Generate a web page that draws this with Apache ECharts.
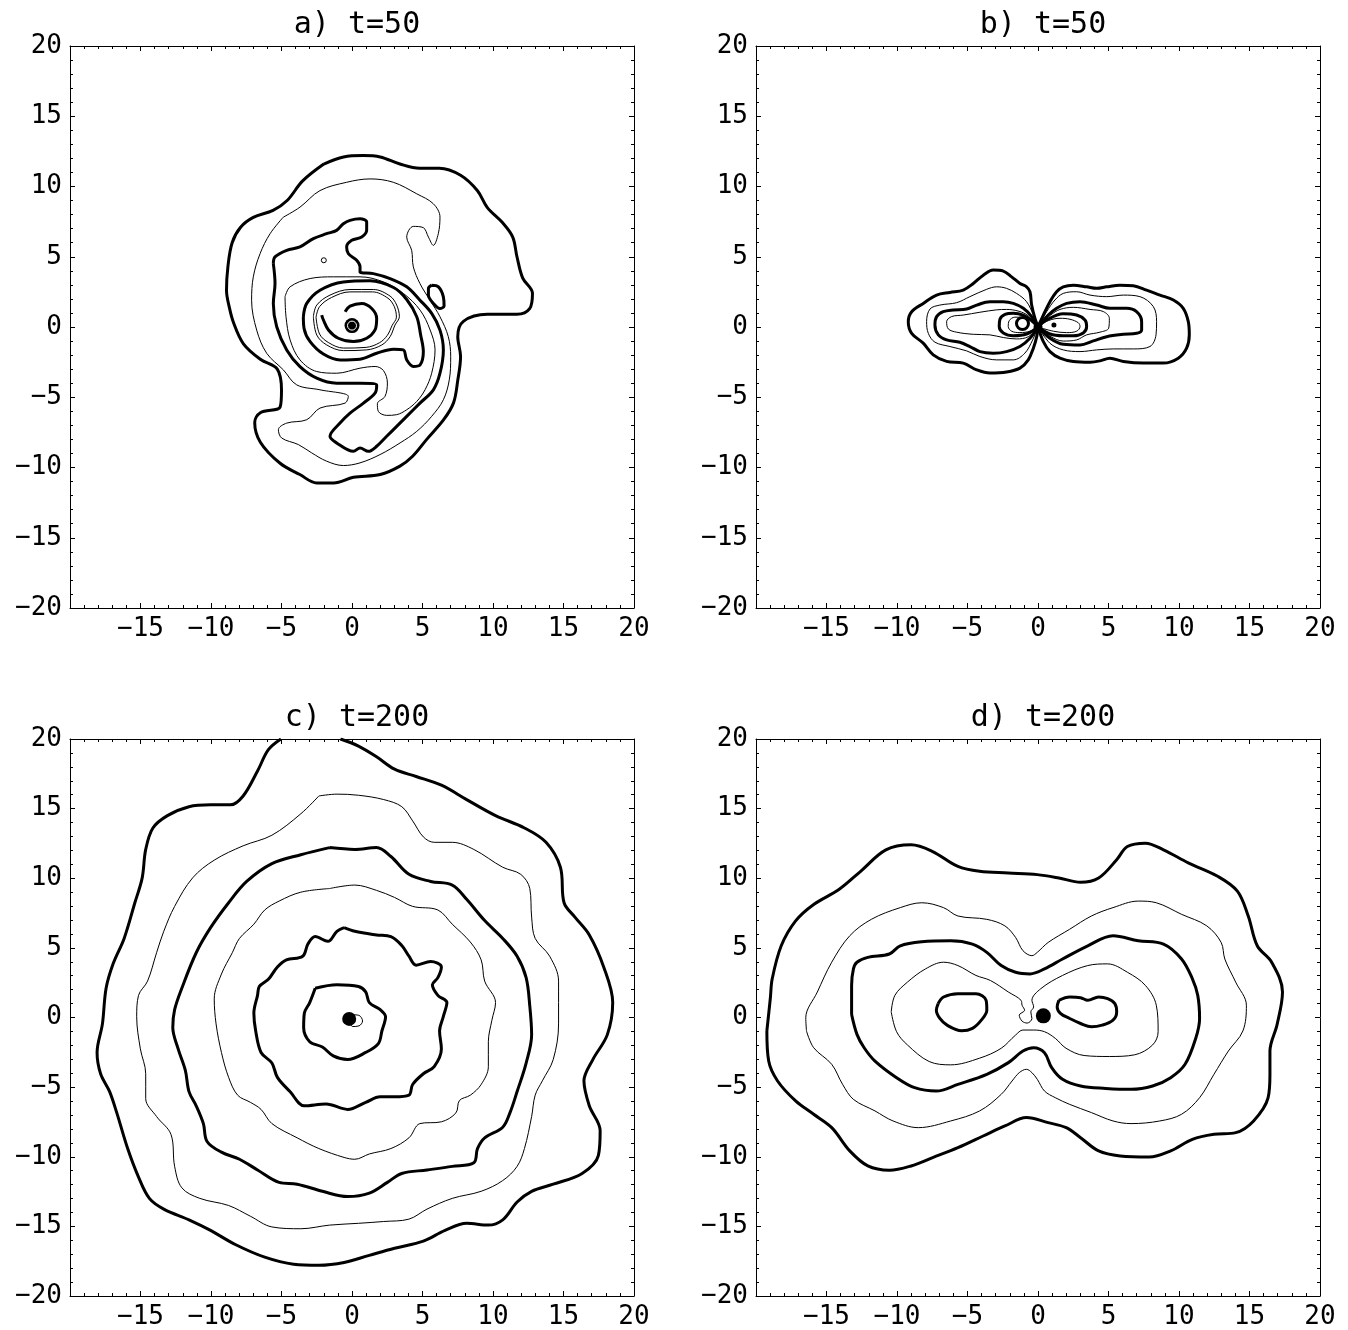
<!DOCTYPE html>
<html><head><meta charset="utf-8">
<script src="https://cdn.jsdelivr.net/npm/echarts@6/dist/echarts.min.js"></script>
<style>html,body{margin:0;padding:0;background:#fff}#c{width:1348px;height:1330px}</style>
</head><body><div id="c"></div>
<script>
// ---------- titles & ticks ----------
const titles = ['a) t=50', 'b) t=50', 'c) t=200', 'd) t=200'];
const tickValues = [-20, -15, -10, -5, 0, 5, 10, 15, 20];

// ---------- panel a (t=50, spiral) ----------
const a_thick1 = [[-2.0,11.6],[-0.6,12.1],[0.8,12.2],[2.0,12.1],[3.4,11.6],[4.8,11.3],[6.2,11.3],[7.7,10.8],[8.9,9.7],[9.6,8.5],[10.7,7.4],[11.4,6.4],[11.7,5.0],[12.1,3.5],[12.8,2.4],[12.6,1.3],[11.7,0.9],[9.6,0.9],[7.9,0.4],[7.5,-0.7],[7.7,-2.1],[7.5,-3.8],[7.2,-5.4],[6.5,-6.6],[5.3,-8.0],[4.3,-9.2],[3.4,-9.9],[2.0,-10.5],[0.1,-10.7],[-1.3,-11.1],[-2.5,-11.1],[-3.7,-10.5],[-5.1,-9.7],[-6.5,-8.2],[-6.9,-6.8],[-6.5,-6.1],[-5.1,-5.7],[-5.0,-4.5],[-5.3,-3.0],[-6.5,-2.3],[-7.7,-1.2],[-8.4,0.3],[-8.7,1.4],[-8.9,2.6],[-8.8,4.3],[-8.5,6.0],[-7.9,7.1],[-7.0,7.8],[-5.6,8.3],[-4.6,9.0],[-3.5,10.4]];
const a_thin1 = [[-4.87,7.82],[-3.69,8.53],[-2.27,9.71],[-0.38,10.3],[1.28,10.54],[2.93,10.3],[4.59,9.48],[5.77,8.77],[6.24,7.82],[6.12,6.64],[5.77,5.81],[5.42,6.4],[5.06,7.07],[4.35,7.16],[3.88,6.4],[4.23,5.46],[4.35,4.28],[4.82,3.09],[5.53,1.91],[6.24,0.73],[6.83,-0.69],[7.0,-2.11],[6.9,-3.76],[6.48,-5.18],[5.65,-6.36],[4.59,-7.43],[3.41,-8.25],[1.99,-9.08],[0.57,-9.67],[-0.61,-9.86],[-1.8,-9.55],[-2.86,-8.96],[-3.8,-8.37],[-4.99,-7.9],[-5.22,-7.31],[-4.63,-6.84],[-3.21,-6.6],[-2.27,-5.77],[-0.49,-5.42],[-0.26,-4.94],[-2.27,-4.47],[-3.92,-4.12],[-4.87,-3.05],[-6.05,-1.87],[-6.76,-0.22],[-7.12,1.91],[-7.0,3.57],[-6.52,5.22],[-5.81,6.64]];
const a_thick2 = [[-5.58,4.51],[-5.46,4.99],[-4.63,5.46],[-3.69,5.7],[-2.74,6.29],[-1.8,6.64],[-1.09,6.88],[-0.61,7.35],[-0.14,7.59],[0.57,7.7],[1.04,7.47],[1.04,6.88],[0.69,6.4],[-0.02,6.17],[-0.38,5.7],[-0.26,5.22],[0.33,4.75],[0.57,4.28],[0.57,3.92],[1.51,3.8],[2.7,3.45],[3.88,2.86],[4.82,1.91],[5.65,0.97],[6.24,-0.22],[6.48,-1.63],[6.24,-3.29],[5.77,-4.47],[4.82,-5.42],[3.88,-6.36],[3.17,-7.07],[2.46,-7.78],[1.75,-8.49],[1.16,-8.85],[0.57,-8.61],[0.1,-8.85],[-1.09,-8.25],[-1.56,-7.78],[-0.85,-6.84],[-0.14,-6.13],[0.81,-5.42],[1.63,-4.71],[1.75,-4.12],[0.57,-4.0],[-1.09,-4.0],[-2.5,-3.64],[-3.69,-2.82],[-4.63,-1.63],[-5.34,0.02],[-5.58,1.68],[-5.46,3.1]];
const a_thin2 = [[-4.75,2.15],[-4.39,2.86],[-2.97,3.45],[-1.32,3.57],[0.57,3.57],[2.23,3.21],[3.64,2.39],[4.83,1.2],[5.54,-0.21],[5.89,-1.63],[5.65,-3.29],[5.18,-4.47],[4.59,-5.3],[3.88,-5.89],[3.17,-6.24],[2.46,-6.29],[1.87,-6.01],[1.8,-5.46],[2.34,-4.94],[2.51,-3.99],[2.23,-3.1],[1.64,-2.81],[0.57,-2.93],[-1.08,-3.29],[-2.5,-3.17],[-3.69,-2.34],[-4.39,-0.92],[-4.68,0.73]];
const a_thick3 = [[-3.45,0.73],[-3.21,1.68],[-2.27,2.62],[-0.61,3.21],[1.28,3.29],[2.94,2.81],[3.88,1.96],[4.59,0.73],[4.87,-0.57],[5.06,-1.75],[4.83,-2.7],[4.35,-2.81],[3.88,-2.34],[3.64,-1.63],[2.94,-1.58],[1.75,-1.87],[0.57,-2.29],[-0.85,-2.34],[-2.03,-1.92],[-2.97,-1.04],[-3.4,-0.1]];
const a_thin3 = [[-2.74,0.73],[-2.5,1.56],[-1.56,2.27],[-0.14,2.67],[1.52,2.67],[2.7,2.2],[3.17,1.56],[3.36,0.73],[3.05,0.14],[2.7,-0.69],[2.11,-1.28],[1.04,-1.63],[-0.61,-1.68],[-1.79,-1.28],[-2.5,-0.57]];
const a_thin4 = [[-2.55,0.7],[-2.3,1.45],[-1.45,2.1],[-0.15,2.5],[1.45,2.5],[2.55,2.05],[3.0,1.45],[3.15,0.7],[2.85,0.12],[2.5,-0.6],[1.95,-1.12],[1.0,-1.45],[-0.6,-1.5],[-1.65,-1.12],[-2.3,-0.5]];
const a_hook = [[-0.49,1.09],[-0.14,1.49],[0.69,1.68],[1.4,1.32],[1.75,0.61],[1.63,-0.21],[1.04,-0.8],[0.1,-1.04],[-0.97,-0.8],[-1.67,-0.21],[-2.03,0.5],[-2.15,0.85]];
const a_oval = [[5.65,2.98],[6.13,2.86],[6.48,2.15],[6.53,1.49],[6.24,1.32],[5.77,1.68],[5.42,2.27],[5.42,2.74]];
const a_center = [[0, 0.1]];
const a_tiny = [[-2.0, 4.75]];

// ---------- panel b (t=50, two lobes) ----------
const b_l1 = [[0,0],[-0.22,0.62],[-0.45,1.56],[-0.57,2.51],[-0.81,2.86],[-1.28,3.1],[-1.87,3.57],[-2.46,3.98],[-3.17,4.05],[-3.88,3.69],[-4.59,3.1],[-5.3,2.63],[-6.25,2.46],[-7.19,2.27],[-8.14,1.68],[-8.96,1.09],[-9.2,0.38],[-8.96,-0.45],[-8.14,-1.15],[-7.43,-1.98],[-6.48,-2.45],[-5.3,-2.57],[-4.35,-3.05],[-3.41,-3.28],[-2.23,-3.21],[-1.28,-2.93],[-0.69,-2.34],[-0.33,-1.51],[-0.09,-0.69]];
const b_l2 = [[0,0],[-0.33,0.85],[-0.81,1.8],[-1.52,2.39],[-2.23,2.75],[-2.94,2.86],[-3.65,2.68],[-4.83,2.16],[-5.77,1.73],[-6.96,1.56],[-7.66,1.28],[-7.9,0.38],[-7.78,-0.45],[-7.31,-1.08],[-6.25,-1.39],[-5.06,-1.7],[-4.12,-2.1],[-2.94,-2.34],[-1.75,-2.34],[-0.93,-1.86],[-0.38,-0.92]];
const b_l3 = [[0,0],[-0.45,0.74],[-1.04,1.33],[-1.75,1.68],[-2.46,1.8],[-3.41,1.8],[-4.35,1.56],[-5.06,1.28],[-6.01,1.21],[-6.72,1.09],[-7.19,0.74],[-7.31,0.14],[-7.07,-0.56],[-6.48,-0.92],[-5.54,-1.09],[-4.83,-1.39],[-4.12,-1.75],[-3.17,-1.86],[-2.23,-1.75],[-1.28,-1.39],[-0.57,-0.8]];
const b_l4 = [[0,0],[-0.7,0.8],[-1.35,1.12],[-2.23,1.25],[-2.94,1.22],[-4.12,1.05],[-5.3,0.85],[-6.13,0.74],[-6.48,0.38],[-6.36,-0.14],[-5.77,-0.37],[-4.59,-0.52],[-3.41,-0.56],[-2.46,-0.75],[-1.52,-0.85],[-0.69,-0.69]];
const b_l5 = [[0,0],[-0.5,0.5],[-1.05,0.85],[-1.75,0.98],[-2.34,0.9],[-2.7,0.55],[-2.75,0.03],[-2.46,-0.42],[-1.75,-0.62],[-0.81,-0.5]];
const b_l6 = [[0,0],[-0.45,0.45],[-1.04,0.66],[-1.64,0.7],[-2.04,0.45],[-2.11,0.03],[-1.87,-0.3],[-1.28,-0.4],[-0.57,-0.3]];
const b_r1 = [[0,0],[0.38,0.85],[0.85,1.8],[1.32,2.51],[1.79,2.86],[2.5,2.98],[3.45,2.86],[4.16,2.75],[4.87,2.86],[5.81,2.98],[6.76,2.94],[7.7,2.63],[8.65,2.27],[9.6,1.92],[10.3,1.33],[10.66,0.38],[10.73,-0.56],[10.54,-1.51],[9.95,-2.22],[8.89,-2.57],[7.47,-2.57],[6.05,-2.45],[5.1,-2.22],[4.39,-2.41],[3.69,-2.5],[2.5,-2.45],[1.56,-2.22],[0.85,-1.75],[0.38,-1.04]];
const b_r2 = [[0,0],[0.61,1.09],[1.2,1.92],[1.79,2.39],[2.74,2.51],[3.69,2.27],[4.87,2.16],[6.05,2.27],[7.23,2.16],[8.18,1.45],[8.41,0.38],[8.37,-0.56],[7.94,-1.39],[6.76,-1.56],[5.34,-1.56],[4.16,-1.63],[2.98,-1.75],[1.79,-1.63],[0.85,-1.16]];
const b_r3 = [[0,0],[0.73,0.85],[1.32,1.33],[2.03,1.68],[2.98,1.8],[4.16,1.56],[5.1,1.33],[6.29,1.33],[6.99,1.09],[7.35,0.38],[7.35,-0.21],[6.99,-0.45],[6.05,-0.52],[4.87,-0.69],[3.92,-0.99],[2.98,-1.28],[1.79,-1.23],[0.85,-0.8]];
const b_r4 = [[0,0],[0.9,0.85],[1.56,1.25],[2.5,1.4],[3.69,1.25],[4.63,1.1],[5.06,0.62],[5.01,-0.09],[4.39,-0.37],[3.45,-0.56],[2.74,-0.92],[1.79,-1.0],[0.85,-0.65]];
const b_r5 = [[0,0],[0.6,0.5],[1.79,0.95],[2.74,0.85],[3.33,0.5],[3.45,0.03],[3.21,-0.42],[2.5,-0.62],[1.79,-0.62],[0.85,-0.5]];
const b_r6 = [[0,0],[0.73,0.45],[1.56,0.62],[2.27,0.55],[2.86,0.3],[2.98,0.03],[2.74,-0.3],[2.03,-0.4],[1.09,-0.3]];
const b_center = [[0, 0]];
const b_ring = [[-1.1, 0.25]];
const b_spot = [[1.13, 0.15]];

// ---------- panel c (t=200, rings) ----------
const c_thick1 = [[-0.82,20],[0.46,19.49],[1.74,18.72],[3.02,17.83],[4.55,17.31],[6.34,16.68],[8.13,15.65],[10.18,14.5],[12.23,13.61],[13.76,12.58],[14.78,10.79],[15.04,8.24],[15.81,7.21],[16.83,5.93],[17.85,3.63],[18.49,1.07],[18.11,-1.23],[17.08,-3.02],[16.45,-4.55],[16.83,-6.34],[17.6,-8.13],[17.47,-9.92],[16.32,-11.2],[14.27,-11.97],[12.74,-12.48],[11.71,-13.25],[10.69,-14.53],[9.67,-14.91],[8.13,-14.78],[6.6,-15.29],[5.06,-16.06],[3.02,-16.57],[1.23,-17.08],[-0.56,-17.6],[-2.35,-17.8],[-4.14,-17.72],[-6.19,-17.21],[-8.24,-16.32],[-10.03,-15.29],[-11.56,-14.53],[-13.35,-13.76],[-14.37,-12.99],[-15.14,-11.46],[-15.91,-9.41],[-16.68,-6.85],[-17.19,-5.32],[-17.83,-4.04],[-18.08,-2.51],[-17.7,-0.46],[-17.44,2.1],[-16.93,3.89],[-16.16,5.68],[-15.4,8.24],[-14.88,10.03],[-14.63,12.07],[-14.12,13.61],[-13.09,14.5],[-11.56,15.14],[-10.03,15.27],[-8.62,15.27],[-7.72,15.91],[-6.7,17.7],[-5.93,19.23],[-5.04,20]];
const c_thin1 = [[-2.35,15.91],[-1.07,16.04],[0.46,15.96],[2.25,15.65],[3.53,15.14],[4.3,14.12],[5.06,12.97],[5.83,12.58],[7.11,12.58],[8.64,12.07],[10.69,10.79],[11.97,10.28],[12.61,9.26],[12.74,7.21],[12.99,5.68],[14.02,4.4],[14.65,2.61],[14.65,-0.46],[14.27,-3.02],[13.5,-4.55],[12.99,-5.58],[12.74,-7.11],[12.23,-9.41],[11.71,-10.69],[10.69,-11.71],[9.16,-12.48],[7.11,-12.99],[5.32,-13.76],[4.04,-14.48],[2.25,-14.65],[0.46,-14.78],[-1.59,-14.91],[-3.63,-15.17],[-5.68,-15.04],[-7.21,-14.27],[-8.75,-13.5],[-10.79,-12.99],[-12.07,-12.23],[-12.58,-10.69],[-12.84,-8.39],[-13.86,-7.11],[-14.63,-5.83],[-14.63,-4.04],[-15.01,-2.25],[-15.27,0.05],[-15.14,1.59],[-14.5,2.61],[-13.86,4.65],[-13.35,6.19],[-12.58,7.98],[-11.3,10.03],[-9.77,11.3],[-7.72,12.33],[-5.68,13.09],[-3.63,14.63]];
const c_thick2 = [[-1.59,12.2],[0.2,12.07],[1.74,12.2],[2.76,11.56],[4.04,10.28],[5.58,9.77],[7.11,9.51],[8.13,8.49],[9.41,6.96],[10.69,5.68],[11.71,4.4],[12.35,2.86],[12.61,0.82],[12.74,-1.23],[12.35,-3.27],[11.71,-5.32],[11.2,-6.85],[10.69,-7.88],[9.41,-8.64],[8.9,-9.41],[8.64,-10.43],[7.11,-10.69],[5.32,-10.95],[3.53,-11.2],[2.51,-11.84],[1.23,-12.61],[-0.31,-12.86],[-2.1,-12.48],[-3.89,-11.97],[-5.17,-11.84],[-6.7,-10.95],[-7.98,-10.18],[-9.26,-9.67],[-10.28,-8.9],[-10.54,-7.62],[-11.05,-6.34],[-11.56,-5.32],[-11.82,-3.79],[-12.33,-2.25],[-12.71,-0.72],[-12.58,0.56],[-12.07,2.1],[-11.05,4.65],[-10.03,6.45],[-8.75,8.24],[-7.47,9.77],[-5.68,11.05],[-3.63,11.69]];
const c_thin2 = [[-1.59,9.26],[0.2,9.51],[1.74,9.13],[3.02,8.62],[4.3,7.98],[6.09,7.72],[7.11,6.7],[8.39,5.42],[9.16,4.14],[9.41,2.61],[10.18,1.07],[9.92,-0.2],[9.67,-1.74],[9.67,-3.53],[9.16,-4.81],[8.39,-5.58],[7.62,-5.96],[7.37,-6.85],[6.34,-7.49],[4.81,-7.62],[4.04,-8.64],[2.76,-9.41],[1.23,-9.8],[0.2,-10.18],[-0.56,-10.05],[-2.35,-9.41],[-3.89,-8.64],[-5.68,-7.62],[-6.45,-6.6],[-7.21,-6.09],[-8.11,-5.58],[-8.75,-4.3],[-9.26,-2.51],[-9.64,-0.46],[-9.77,1.33],[-9.26,3.12],[-8.49,4.65],[-7.98,5.68],[-6.96,6.7],[-6.19,7.72],[-5.17,8.36],[-3.63,9.0]];
const c_thick3 = [[-0.56,6.45],[0.2,6.19],[1.74,5.93],[2.76,5.81],[3.53,5.17],[4.04,4.4],[4.55,3.76],[5.58,4.02],[6.34,3.63],[6.09,2.86],[5.7,2.35],[6.09,1.59],[6.73,1.07],[6.47,0.05],[6.21,-0.97],[6.34,-2.25],[5.83,-3.53],[5.06,-4.04],[4.3,-4.81],[4.04,-5.58],[3.02,-5.7],[2.0,-5.7],[0.97,-6.09],[-0.31,-6.6],[-1.84,-6.21],[-3.38,-6.34],[-4.4,-5.32],[-5.29,-4.3],[-5.68,-3.27],[-6.45,-2.51],[-6.83,-0.97],[-6.96,0.31],[-6.7,1.59],[-6.57,2.23],[-5.93,2.74],[-5.29,3.63],[-4.65,4.14],[-3.5,4.4],[-3.12,5.29],[-2.61,5.81],[-1.71,5.47],[-1.07,6.19]];
const c_thick4 = [[-2.61,2.1],[-1.07,2.35],[0.46,2.23],[0.97,1.84],[1.23,1.07],[2.0,0.56],[2.38,0.05],[2.12,-0.97],[1.87,-1.87],[0.97,-2.51],[-0.31,-3.02],[-1.33,-2.76],[-2.1,-2.12],[-3.0,-1.74],[-3.43,-0.72],[-3.38,0.31],[-3.0,1.07]];
const c_thin3 = [[0.0,0.2],[0.5,0.15],[0.75,-0.25],[0.5,-0.6],[0.05,-0.65],[-0.15,-0.3]];
const c_center = [[-0.2, -0.1]];

// ---------- panel d (t=200, two lobes) ----------
const d_thick1 = [[-19.23,-0.97],[-18.98,1.42],[-18.85,2.78],[-18.21,5.15],[-17.19,6.94],[-15.91,8.12],[-14.12,9.19],[-12.58,10.5],[-10.79,12.04],[-9.0,12.4],[-7.47,11.92],[-5.68,10.85],[-4.14,10.5],[-2.1,10.38],[-0.05,10.26],[1.48,10.02],[3.02,9.71],[4.3,10.02],[5.58,11.33],[6.34,12.28],[7.62,12.52],[8.9,12.04],[10.69,11.09],[12.74,10.14],[14.14,9.07],[14.91,7.29],[15.55,5.15],[16.57,3.97],[17.34,1.83],[16.96,-0.49],[16.45,-2.41],[16.45,-4.08],[16.32,-5.76],[15.29,-7.43],[14.02,-8.27],[12.48,-8.39],[10.95,-8.75],[9.41,-9.58],[7.88,-10.02],[5.83,-9.94],[4.3,-9.58],[3.02,-8.63],[2.0,-7.91],[0.72,-7.55],[-0.82,-7.19],[-2.35,-7.79],[-3.89,-8.51],[-5.68,-9.35],[-7.47,-10.06],[-9.0,-10.66],[-10.54,-10.97],[-12.07,-10.66],[-13.35,-9.58],[-14.63,-7.91],[-15.91,-6.95],[-17.19,-5.99],[-18.47,-4.56],[-19.1,-3.13]];
const d_thin1 = [[-16.42,-0.97],[-16.47,-0.02],[-15.65,1.83],[-14.63,3.97],[-13.35,5.87],[-11.82,7.05],[-9.77,7.89],[-8.24,8.24],[-6.7,7.89],[-5.68,7.29],[-3.63,7.05],[-2.35,6.58],[-1.59,5.75],[-1.07,4.8],[-0.43,4.44],[-0.05,4.68],[0.72,5.39],[2.25,6.34],[3.79,7.29],[5.32,7.89],[7.11,8.36],[8.39,8.24],[10.18,7.41],[11.97,6.58],[12.99,5.39],[13.25,4.2],[14.02,2.54],[14.78,0.88],[14.53,-0.97],[13.5,-2.41],[12.48,-4.08],[11.46,-5.76],[10.18,-6.95],[8.64,-7.43],[6.6,-7.62],[5.32,-7.43],[3.79,-6.83],[2.25,-6.24],[1.23,-5.76],[0.46,-5.28],[-0.05,-4.44],[-0.43,-3.96],[-0.82,-3.72],[-1.33,-3.96],[-1.84,-4.56],[-2.61,-5.52],[-4.14,-6.71],[-6.19,-7.43],[-8.49,-7.91],[-10.28,-7.43],[-11.56,-6.71],[-13.09,-5.88],[-13.86,-4.8],[-14.63,-3.36],[-15.91,-2.17]];
const d_thick2 = [[-13.22,0.22],[-13.22,2.3],[-13.09,3.49],[-12.84,3.97],[-12.07,4.32],[-10.54,4.56],[-9.77,5.15],[-8.24,5.44],[-6.19,5.51],[-4.65,5.27],[-3.63,4.68],[-2.61,3.73],[-1.59,3.25],[-0.56,3.13],[0.46,3.49],[1.74,4.2],[3.53,5.15],[5.32,5.87],[7.11,5.51],[8.9,5.27],[10.18,4.2],[10.95,2.78],[11.33,1.59],[11.46,-0.07],[11.2,-1.45],[10.43,-3.36],[9.41,-4.32],[8.13,-4.92],[6.6,-5.16],[4.81,-5.09],[3.02,-4.92],[1.74,-4.44],[0.97,-3.6],[0.46,-2.53],[-0.31,-2.17],[-1.07,-2.41],[-2.1,-3.24],[-3.63,-4.08],[-5.68,-4.8],[-7.21,-5.28],[-8.75,-5.04],[-10.03,-4.32],[-11.56,-3.13],[-12.33,-2.17],[-12.84,-1.21]];
const d_thin2 = [[-10.41,0.4],[-10.15,1.59],[-9.26,2.54],[-7.98,3.49],[-6.7,3.97],[-5.68,3.73],[-4.4,3.02],[-3.38,2.66],[-2.1,1.83],[-1.2,1.23],[-1.13,0.88],[-0.95,0.52],[-1.33,0.17],[-1.13,-0.26],[-0.77,-0.4],[-0.43,-0.07],[-0.51,0.4],[-0.31,0.76],[-0.43,1.23],[0.2,2.07],[1.74,3.02],[3.53,3.73],[4.94,3.85],[6.34,3.25],[7.62,2.3],[8.39,0.88],[8.52,-1.02],[8.13,-1.97],[6.85,-2.68],[5.06,-2.8],[3.27,-2.73],[1.99,-2.21],[1.23,-1.5],[0.46,-1.02],[-0.31,-0.9],[-1.07,-0.9],[-1.59,-1.26],[-2.61,-2.21],[-4.14,-2.92],[-6.19,-3.4],[-7.72,-3.16],[-9.26,-1.97],[-10.03,-1.02]];
const d_thick3 = [[-7.08,1.0],[-6.7,1.47],[-5.68,1.71],[-4.4,1.71],[-3.68,1.23],[-3.63,0.52],[-4.02,-0.19],[-4.65,-0.78],[-5.42,-0.95],[-6.45,-0.55],[-6.96,-0.07],[-7.21,0.52]];
const d_thick4 = [[1.48,1.23],[2.25,1.47],[3.02,1.42],[3.53,1.23],[4.3,1.47],[4.94,1.35],[5.45,1.0],[5.58,0.4],[5.32,-0.19],[4.55,-0.55],[3.79,-0.67],[3.02,-0.43],[2.25,-0.07],[1.61,0.28],[1.36,0.76]];
const d_center = [[0.38, 0.12]];

// ---------- build chart ----------
const THICK = 3, THIN = 1;
const FONT = 'DejaVu Sans Mono';
const gridPos = [[70, 46], [756, 46], [70, 739], [756, 739]];
const W = 564, H = 562;

function fmt(v) { return v < 0 ? '\u2212' + Math.abs(v) : String(v); }

const grids = [], xAxes = [], yAxes = [], titleArr = [];
gridPos.forEach((p, i) => {
  grids.push({ left: p[0], top: p[1], width: W, height: H, show: false });
  const common = {
    type: 'value', gridIndex: i, min: tickValues[0], max: tickValues[tickValues.length - 1], interval: 5,
    splitLine: { show: false },
    axisLine: { show: true, onZero: false, lineStyle: { color: '#000', width: 1 } },
    axisTick: { show: true, inside: true, length: 5, lineStyle: { color: '#000' } },
    minorTick: { show: true, splitNumber: 5, length: 3, lineStyle: { color: '#000' } }
  };
  xAxes.push(Object.assign({}, common, { position: 'bottom',
    axisLabel: { show: true, color: '#000', fontFamily: FONT, fontSize: 26, margin: 8, showMinLabel: false, showMaxLabel: true, formatter: fmt } }));
  xAxes.push(Object.assign({}, common, { position: 'top', axisLabel: { show: false } }));
  yAxes.push(Object.assign({}, common, { position: 'left',
    axisLabel: { show: true, color: '#000', fontFamily: FONT, fontSize: 26, margin: 8, showMinLabel: true, showMaxLabel: true, formatter: fmt } }));
  yAxes.push(Object.assign({}, common, { position: 'right', axisLabel: { show: false } }));
  titleArr.push({ text: titles[i], left: p[0] + W / 2, top: p[1] - 41, textAlign: 'center',
    textStyle: { fontFamily: FONT, fontSize: 30, fontWeight: 'normal', color: '#000' } });
});

const series = [];
function line(i, pts, w, closed) {
  series.push({ type: 'line', xAxisIndex: i * 2, yAxisIndex: i * 2,
    data: closed ? pts.concat([pts[0]]) : pts,
    symbol: 'none', showSymbol: false, smooth: 0.35, silent: true, clip: true,
    lineStyle: { color: '#000', width: w } });
}
function dot(i, pts, size, style) {
  series.push({ type: 'scatter', xAxisIndex: i * 2, yAxisIndex: i * 2, data: pts,
    symbol: 'circle', symbolSize: size, silent: true, z: 5,
    itemStyle: Object.assign({ color: '#000', opacity: 1 }, style || {}) });
}

// panel a
line(0, a_thick1, THICK, true);
line(0, a_thin1, THIN, true);
line(0, a_thick2, THICK, true);
line(0, a_thin2, THIN, true);
line(0, a_thick3, THICK, true);
line(0, a_thin3, THIN, true);
line(0, a_thin4, THIN, true);
line(0, a_hook, THICK, false);
line(0, a_oval, THICK, true);
dot(0, a_center, 15);
dot(0, a_center, 9, { color: '#000', borderColor: '#fff', borderWidth: 1 });
dot(0, a_tiny, 5, { color: '#fff', borderColor: '#000', borderWidth: 1 });

// panel b
[[b_l1, THICK], [b_l2, THIN], [b_l3, THICK], [b_l4, THIN], [b_l5, THICK], [b_l6, THIN],
 [b_r1, THICK], [b_r2, THIN], [b_r3, THICK], [b_r4, THIN], [b_r5, THICK], [b_r6, THIN]]
  .forEach(s => line(1, s[0], s[1], true));
dot(1, b_center, 9);
dot(1, b_ring, 12, { color: '#fff', borderColor: '#000', borderWidth: 3 });
dot(1, b_spot, 5);

// panel c
line(2, c_thick1, THICK, false);
line(2, c_thin1, THIN, true);
line(2, c_thick2, THICK, true);
line(2, c_thin2, THIN, true);
line(2, c_thick3, THICK, true);
line(2, c_thick4, THICK, true);
line(2, c_thin3, THIN, true);
dot(2, c_center, 14);

// panel d
line(3, d_thick1, THICK, true);
line(3, d_thin1, THIN, true);
line(3, d_thick2, THICK, true);
line(3, d_thin2, THIN, true);
line(3, d_thick3, THICK, true);
line(3, d_thick4, THICK, true);
dot(3, d_center, 15);

const chart = echarts.init(document.getElementById('c'), null, { renderer: 'canvas' });
chart.setOption({
  animation: false,
  backgroundColor: '#fff',
  title: titleArr,
  grid: grids,
  xAxis: xAxes,
  yAxis: yAxes,
  series: series
});
</script>
</body></html>
